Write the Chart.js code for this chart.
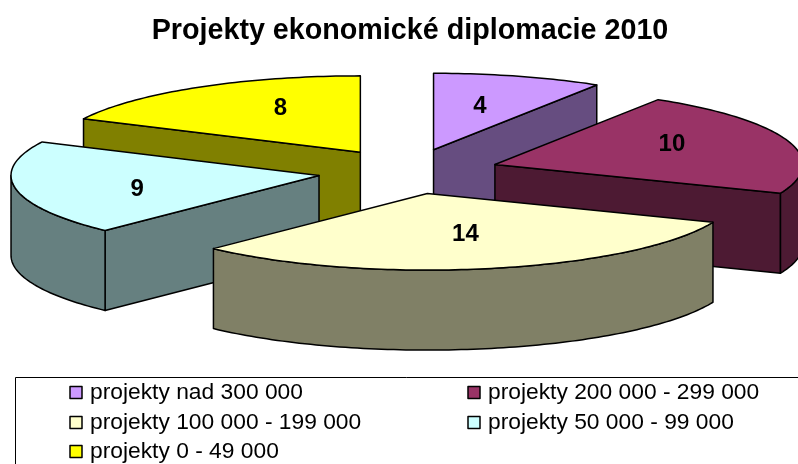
<!DOCTYPE html>
<html>
<head>
<meta charset="utf-8">
<style>
    html, body { margin: 0; padding: 0; background: #fff; overflow: hidden; }
    canvas { display: block; }
</style>
<script src="https://cdn.jsdelivr.net/npm/chart.js@4"></script>
</head>
<body>
<canvas id="pieChart" width="798" height="464"></canvas>
<script>
// Data
const titleText = 'Projekty ekonomické diplomacie 2010';
const categories = [
    'projekty nad 300 000',
    'projekty 200 000 - 299 000',
    'projekty 100 000 - 199 000',
    'projekty 50 000 - 99 000',
    'projekty 0 - 49 000'
];
const values = [4, 10, 14, 9, 8];

const topColors = ['#CC99FF', '#993366', '#FFFFCC', '#CCFFFF', '#FFFF00'];
const sideColors = ['#664D80', '#4D1A33', '#808066', '#668080', '#808000'];

// Layout of the tilted pie on the page
const pieCenter = { x: 408.5, y: 171.5 };
const radiusX = 308;
const radiusY = 76.5;
const pieDepth = 80;
const explode = 0.295;
const labelRadius = 0.57;
const labelNudge = [[-2, -2], [10, -6.5], [1.5, -1.6], [-9, 6.4], [13, -7]];

// Screen position of a point on the pie plane (r = 1 is the rim)
function project(apex, angle, r) {
    return {
        x: apex.x + Math.cos(angle) * r * radiusX,
        y: apex.y + Math.sin(angle) * r * radiusY
    };
}

function drawFace(ctx, points, color) {
    ctx.beginPath();
    points.forEach((p, i) => i ? ctx.lineTo(p.x, p.y) : ctx.moveTo(p.x, p.y));
    ctx.closePath();
    ctx.fillStyle = color;
    ctx.fill();
    ctx.stroke();
}

function rimPoints(apex, from, to) {
    const pts = [];
    const steps = Math.max(2, Math.ceil((to - from) / 0.02));
    for (let i = 0; i <= steps; i++) {
        pts.push(project(apex, from + (to - from) * i / steps, 1));
    }
    return pts;
}

const down = (p) => ({ x: p.x, y: p.y + pieDepth });

function drawSlice(ctx, s) {
    const { apex, start, end, index } = s;
    const side = sideColors[index];

    // Only the walls that look toward the viewer
    if (Math.cos(start) < -1e-6) {
        const p = project(apex, start, 1);
        drawFace(ctx, [apex, p, down(p), down(apex)], side);
    }
    if (Math.cos(end) > 1e-6) {
        const p = project(apex, end, 1);
        drawFace(ctx, [apex, p, down(p), down(apex)], side);
    }

    // Front part of the rim
    const ranges = [[start, end], [start - Math.PI * 2, end - Math.PI * 2], [start + Math.PI * 2, end + Math.PI * 2]];
    ranges.forEach(([a, b]) => {
        const from = Math.max(a, 0);
        const to = Math.min(b, Math.PI);
        if (to > from) {
            const rim = rimPoints(apex, from, to);
            drawFace(ctx, rim.concat(rim.map(down).reverse()), side);
        }
    });

    // Top of the slice
    drawFace(ctx, [apex].concat(rimPoints(apex, start, end)), topColors[index]);
}

const tiltedPie = {
    id: 'tiltedPie',
    // The flat arcs are replaced by the tilted version below
    beforeDatasetsDraw() { return false; },
    afterDraw(chart) {
        const ctx = chart.ctx;
        const arcs = chart.getDatasetMeta(0).data;
        const slices = arcs.map((arc, index) => {
            const mid = (arc.startAngle + arc.endAngle) / 2;
            return {
                index,
                mid,
                start: arc.startAngle,
                end: arc.endAngle,
                apex: project(pieCenter, mid, explode)
            };
        });

        ctx.save();
        ctx.strokeStyle = '#000';
        ctx.lineWidth = 1.5;
        ctx.lineJoin = 'round';
        slices.slice().sort((a, b) => a.apex.y - b.apex.y).forEach(s => drawSlice(ctx, s));

        // Value labels
        ctx.fillStyle = '#000';
        ctx.font = 'bold 24px "Liberation Sans", Arial, sans-serif';
        ctx.textAlign = 'center';
        ctx.textBaseline = 'middle';
        slices.forEach(s => {
            const p = project(s.apex, s.mid, labelRadius);
            ctx.fillText(String(values[s.index]), p.x + labelNudge[s.index][0], p.y + labelNudge[s.index][1]);
        });

        drawLegend(ctx);
        ctx.restore();
    }
};

function drawLegend(ctx) {
    // Frame runs off the right and bottom edges
    ctx.lineWidth = 1;
    ctx.strokeStyle = '#000';
    ctx.beginPath();
    ctx.moveTo(15.5, 464);
    ctx.lineTo(15.5, 377.5);
    ctx.lineTo(798, 377.5);
    ctx.stroke();

    const colX = [70, 468];
    const rowY = [392, 422, 451];
    ctx.font = '22.8px "Liberation Sans", Arial, sans-serif';
    ctx.textAlign = 'left';
    ctx.textBaseline = 'middle';
    categories.forEach((label, i) => {
        const x = colX[i % 2];
        const y = rowY[Math.floor(i / 2)];
        ctx.fillStyle = topColors[i];
        ctx.lineWidth = 1.5;
        ctx.fillRect(x, y - 5.5, 12, 12);
        ctx.strokeRect(x, y - 5.5, 12, 12);
        ctx.fillStyle = '#000';
        ctx.fillText(label, x + 20, y + 1);
    });
}

new Chart(document.getElementById('pieChart'), {
    type: 'pie',
    data: {
        labels: categories,
        datasets: [{ data: values, backgroundColor: topColors }]
    },
    options: {
        responsive: false,
        animation: false,
        layout: { padding: { left: 22 } },
        plugins: {
            legend: { display: false },
            tooltip: { enabled: false },
            title: {
                display: true,
                text: titleText,
                color: '#000',
                font: { family: '"Liberation Sans", Arial, sans-serif', size: 28.7, weight: 'bold' },
                padding: { top: 14, bottom: 10 }
            }
        }
    },
    plugins: [tiltedPie]
});
</script>
</body>
</html>
